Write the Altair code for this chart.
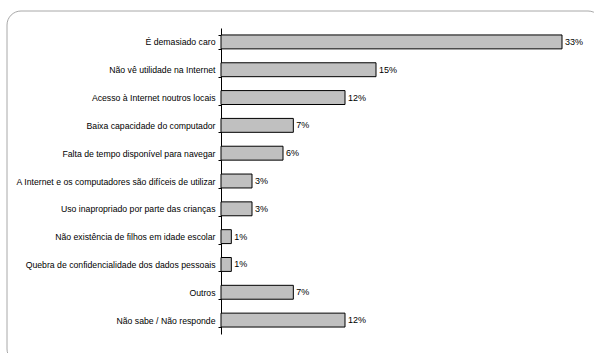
import altair as alt
import pandas as pd

categories = [
    "É demasiado caro",
    "Não vê utilidade na Internet",
    "Acesso à Internet noutros locais",
    "Baixa capacidade do computador",
    "Falta de tempo disponível para navegar",
    "A Internet e os computadores são difíceis de utilizar",
    "Uso inapropriado por parte das crianças",
    "Não existência de filhos em idade escolar",
    "Quebra de confidencialidade dos dados pessoais",
    "Outros",
    "Não sabe / Não responde",
]
values = [33, 15, 12, 7, 6, 3, 3, 1, 1, 7, 12]
labels = [f"{v}%" for v in values]

df = pd.DataFrame({"cat": categories, "val": values, "lab": labels})

y_enc = alt.Y(
    "cat:N",
    sort=categories,
    title=None,
    scale=alt.Scale(paddingInner=0.5, paddingOuter=0.25),
    axis=alt.Axis(
        tickBand="extent",
        tickSize=3,
        tickColor="black",
        domainColor="black",
        labelPadding=3,
        labelFont="Liberation Sans",
        labelFontSize=8.7,
        labelColor="black",
        labelLimit=300,
    ),
)
x_enc = alt.X("val:Q", scale=alt.Scale(domain=[0, 33], nice=False), axis=None)

base = alt.Chart(df)
bars = base.mark_bar(color="#c0c0c0", stroke="black", strokeWidth=1).encode(x=x_enc, y=y_enc)
text = base.mark_text(
    align="left", dx=3, font="Liberation Sans", fontSize=9, color="black"
).encode(x=x_enc, y=y_enc, text="lab:N")

frame = alt.Chart(pd.DataFrame({"a": [0]})).mark_rect(
    fill=None, stroke="#a8a8a8", strokeWidth=1, cornerRadius=14
).encode(
    x=alt.value(-214), x2=alt.value(381), y=alt.value(-17), y2=alt.value(335)
)

chart = alt.layer(frame, bars, text).properties(
    width=341,
    height=306,
    padding={"left": 221, "top": 28, "right": 32, "bottom": 19},
    autosize=alt.AutoSizeParams(type="none"),
    background="white",
).configure_view(stroke=None)

chart.save("out.html", embed_options={"renderer": "svg", "actions": False})
